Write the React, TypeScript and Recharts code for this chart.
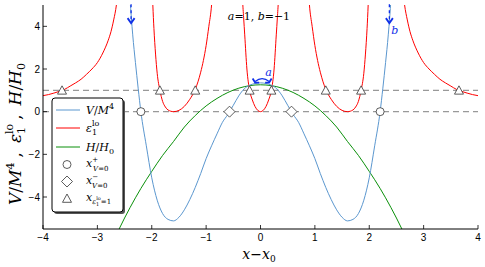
import React from 'react';
import {
  ComposedChart,
  Line,
  Scatter,
  XAxis,
  YAxis,
  ReferenceLine,
  ReferenceDot,
} from 'recharts';

const xTicks = [-4, -3, -2, -1, 0, 1, 2, 3, 4];
const yTicks = [-4, -2, 0, 2, 4];

// V/M^4
const potX = [
  -2.45, -2.4, -2.35, -2.3, -2.25, -2.2, -2.1, -2.0, -1.9, -1.8, -1.7, -1.6, -1.5, -1.4,
  -1.3, -1.2, -1.1, -1.0, -0.9, -0.8, -0.7, -0.6, -0.5, -0.4, -0.3, -0.2, -0.1, 0,
  0.1, 0.2, 0.3, 0.4, 0.5, 0.6, 0.7, 0.8, 0.9, 1.0, 1.1, 1.2, 1.3, 1.4, 1.5, 1.6,
  1.7, 1.8, 1.9, 2.0, 2.1, 2.2, 2.25, 2.3, 2.35, 2.4, 2.45,
];
const potY = [
  7.5, 5.3, 3.6, 2.3, 1.1, 0.0, -1.6, -3.1, -4.15, -4.78, -5.05, -5.12, -4.95, -4.6,
  -4.12, -3.55, -2.9, -2.2, -1.6, -1.04, -0.5, -0.13, 0.3, 0.74, 1.07, 1.24, 1.32, 1.35,
  1.32, 1.24, 1.07, 0.74, 0.3, -0.13, -0.5, -1.04, -1.6, -2.2, -2.9, -3.55, -4.12, -4.6, -4.95, -5.12,
  -5.05, -4.78, -4.15, -3.1, -1.6, 0.0, 1.1, 2.3, 3.6, 5.3, 7.5,
];

// H/H0
const hubX = [
  -2.7, -2.6, -2.4, -2.2, -2.0, -1.8, -1.6, -1.4, -1.2, -1.0, -0.8, -0.6, -0.4, -0.2, 0,
  0.2, 0.4, 0.6, 0.8, 1.0, 1.2, 1.4, 1.6, 1.8, 2.0, 2.2, 2.4, 2.6, 2.7,
];
const hubY = [
  -6.05, -5.5, -4.5, -3.6, -2.8, -2.05, -1.4, -0.72, -0.18, 0.27, 0.62, 0.9, 1.1, 1.22, 1.26,
  1.22, 1.1, 0.9, 0.62, 0.27, -0.18, -0.72, -1.4, -2.05, -2.8, -3.6, -4.5, -5.5, -6.05,
];

// epsilon_1^lo, one array pair per branch
const epsOuterLX = [-4.0, -3.9, -3.8, -3.7, -3.6, -3.5, -3.4, -3.3, -3.2, -3.1, -3.0, -2.9, -2.8, -2.75, -2.7, -2.65, -2.6];
const epsOuterLY = [0.75, 0.8, 0.87, 0.95, 1.05, 1.2, 1.35, 1.52, 1.75, 2.0, 2.3, 2.75, 3.35, 3.75, 4.3, 5.0, 6.2];
const epsInnerLX = [-2.0, -1.98, -1.96, -1.93, -1.9, -1.85, -1.8, -1.75, -1.7, -1.6, -1.5, -1.4, -1.3, -1.2, -1.15, -1.1, -1.05, -1.0, -0.95, -0.9, -0.86];
const epsInnerLY = [6.5, 5.0, 3.9, 2.7, 1.8, 1.0, 0.48, 0.22, 0.08, 0, 0.06, 0.25, 0.58, 1.05, 1.4, 1.85, 2.4, 3.1, 4.0, 5.0, 6.6];
const epsCenterX = [-0.35, -0.33, -0.31, -0.29, -0.25, -0.2, -0.15, -0.1, -0.05, 0, 0.05, 0.1, 0.15, 0.2, 0.25, 0.29, 0.31, 0.33, 0.35];
const epsCenterY = [7, 5.3, 4.4, 3.6, 2.0, 1.0, 0.55, 0.24, 0.06, 0, 0.06, 0.24, 0.55, 1.0, 2.0, 3.6, 4.4, 5.3, 7];
const epsInnerRX = [0.86, 0.9, 0.95, 1.0, 1.05, 1.1, 1.15, 1.2, 1.3, 1.4, 1.5, 1.6, 1.7, 1.75, 1.8, 1.85, 1.9, 1.93, 1.96, 1.98, 2.0];
const epsInnerRY = [6.6, 5.0, 4.0, 3.1, 2.4, 1.85, 1.4, 1.05, 0.58, 0.25, 0.06, 0, 0.08, 0.22, 0.48, 1.0, 1.8, 2.7, 3.9, 5.0, 6.5];
const epsOuterRX = [2.6, 2.65, 2.7, 2.75, 2.8, 2.9, 3.0, 3.1, 3.2, 3.3, 3.4, 3.5, 3.6, 3.7, 3.8, 3.9, 4.0];
const epsOuterRY = [6.2, 5.0, 4.3, 3.75, 3.35, 2.75, 2.3, 2.0, 1.75, 1.52, 1.35, 1.2, 1.05, 0.95, 0.87, 0.8, 0.75];

// marked points
const circleX = [-2.2, 2.2];
const circleY = [0, 0];
const diamondX = [-0.57, 0.57];
const diamondY = [0, 0];
const triX = [-3.65, -1.85, -1.2, -0.2, 0.2, 1.2, 1.85, 3.65];
const triY = [1, 1, 1, 1, 1, 1, 1, 1];

const zip = (xs: number[], ys: number[]) => xs.map((x, i) => ({ x, y: ys[i] }));

const BLUE = '#5b97cf';
const RED = '#ff0000';
const GREEN = '#0a900a';
const MARK = '#333333';
const ANN = '#1030e8';
const sans = '"Liberation Sans", Arial, sans-serif';
const serif = '"DejaVu Serif", serif';

const fmt = (v: number) => (v < 0 ? '\u2212' + Math.abs(v) : String(v));

const BottomTick = ({ x, y, payload }: any) => (
  <g>
    <line x1={x} y1={y} x2={x} y2={y - 4} stroke="#000" strokeWidth={0.8} />
    <text x={x} y={y + 11.5} textAnchor="middle" fontSize={10} fontFamily={sans} fill="#000">
      {fmt(payload.value)}
    </text>
  </g>
);
const TopTick = ({ x, y }: any) => (
  <line x1={x} y1={y} x2={x} y2={y + 4} stroke="#000" strokeWidth={0.8} />
);
const LeftTick = ({ x, y, payload }: any) => (
  <g>
    <line x1={x} y1={y} x2={x + 4} y2={y} stroke="#000" strokeWidth={0.8} />
    <text x={x - 3} y={y + 3.5} textAnchor="end" fontSize={10} fontFamily={sans} fill="#000">
      {fmt(payload.value)}
    </text>
  </g>
);
const RightTick = ({ x, y }: any) => (
  <line x1={x} y1={y} x2={x - 4} y2={y} stroke="#000" strokeWidth={0.8} />
);

const CircleMark = ({ cx, cy }: any) => (
  <circle cx={cx} cy={cy} r={4} fill="#fff" stroke={MARK} strokeWidth={0.8} />
);
const DiamondMark = ({ cx, cy }: any) => (
  <polygon
    points={`${cx},${cy - 5.5} ${cx + 5.5},${cy} ${cx},${cy + 5.5} ${cx - 5.5},${cy}`}
    fill="#fff"
    stroke={MARK}
    strokeWidth={0.8}
  />
);
const TriMark = ({ cx, cy }: any) => (
  <polygon
    points={`${cx},${cy - 4.5} ${cx + 4.5},${cy + 3.8} ${cx - 4.5},${cy + 3.8}`}
    fill="#fff"
    stroke={MARK}
    strokeWidth={0.8}
  />
);

// dashed downward arrow pointing at the pole of V
const PoleArrow = ({ cx, cy, label }: any) => (
  <g>
    <line x1={cx} y1={cy - 19} x2={cx} y2={cy - 4} stroke={ANN} strokeWidth={1.3} strokeDasharray="3 3" />
    <polyline points={`${cx - 3.5},${cy - 5} ${cx},${cy} ${cx + 3.5},${cy - 5}`} fill="none" stroke={ANN} strokeWidth={1.8} />
    {label && (
      <text x={cx + 2} y={cy + 11} fontSize={11} fontStyle="italic" fontFamily={serif} fill={ANN}>
        {label}
      </text>
    )}
  </g>
);

// curved double arrow over the top of the potential
const TopArrow = ({ cx, cy }: any) => (
  <g>
    <path d={`M ${cx - 7} ${cy + 3} Q ${cx} ${cy - 3} ${cx + 7} ${cy + 3}`} fill="none" stroke={ANN} strokeWidth={1.3} />
    <polyline points={`${cx - 9.5},${cy} ${cx - 7},${cy + 4} ${cx - 3},${cy + 4}`} fill="none" stroke={ANN} strokeWidth={1.8} />
    <polyline points={`${cx + 9.5},${cy} ${cx + 7},${cy + 4} ${cx + 3},${cy + 4}`} fill="none" stroke={ANN} strokeWidth={1.8} />
    <text x={cx + 3} y={cy - 3} fontSize={11} fontStyle="italic" fontFamily={serif} fill={ANN}>
      a
    </text>
  </g>
);

const legendRows = [110, 128, 147, 164.5, 181.5, 198.5];

const Legend = () => (
  <g fontFamily={serif} fontSize={11}>
    <rect x={54} y={100} width={71} height={114} rx={3} fill="#555" />
    <rect x={52} y={98} width={71} height={114} rx={3} fill="#fff" stroke="#000" strokeWidth={1} />
    <line x1={56} x2={80} y1={legendRows[0]} y2={legendRows[0]} stroke={BLUE} strokeWidth={1} />
    <line x1={56} x2={80} y1={legendRows[1]} y2={legendRows[1]} stroke={RED} strokeWidth={1} />
    <line x1={56} x2={80} y1={legendRows[2]} y2={legendRows[2]} stroke={GREEN} strokeWidth={1} />
    <CircleMark cx={67} cy={legendRows[3]} />
    <DiamondMark cx={67} cy={legendRows[4]} />
    <TriMark cx={67} cy={legendRows[5]} />
    <text x={86} y={legendRows[0] + 4}>
      <tspan fontStyle="italic">V</tspan>/<tspan fontStyle="italic">M</tspan>
      <tspan fontSize={8} dy={-5}>4</tspan>
    </text>
    <text x={86} y={legendRows[1] + 4}>
      <tspan fontStyle="italic">ε</tspan>
      <tspan fontSize={8} dy={3}>1</tspan>
      <tspan fontSize={8} dx={-5} dy={-9}>lo</tspan>
    </text>
    <text x={86} y={legendRows[2] + 4}>
      <tspan fontStyle="italic">H</tspan>/<tspan fontStyle="italic">H</tspan>
      <tspan fontSize={8} dy={3}>0</tspan>
    </text>
    <text x={86} y={legendRows[3] + 2}>
      <tspan fontStyle="italic">x</tspan>
      <tspan fontSize={7} dy={-5}>+</tspan>
      <tspan fontSize={7} dx={-5} dy={9} fontStyle="italic">V</tspan>
      <tspan fontSize={7}>=0</tspan>
    </text>
    <text x={86} y={legendRows[4] + 2}>
      <tspan fontStyle="italic">x</tspan>
      <tspan fontSize={7} dy={-5}>−</tspan>
      <tspan fontSize={7} dx={-6} dy={9} fontStyle="italic">V</tspan>
      <tspan fontSize={7}>=0</tspan>
    </text>
    <text x={86} y={legendRows[5] + 2}>
      <tspan fontStyle="italic">x</tspan>
      <tspan fontSize={7} dy={3} fontStyle="italic">ε</tspan>
      <tspan fontSize={5} dy={2}>1</tspan>
      <tspan fontSize={5} dx={-3} dy={-6}>lo</tspan>
      <tspan fontSize={7} dy={4}>=1</tspan>
    </text>
  </g>
);

const AxisLabels = () => (
  <g fontFamily={serif} fill="#000">
    <text x={259} y={20} textAnchor="middle" fontSize={11}>
      <tspan fontStyle="italic">a</tspan>=1, <tspan fontStyle="italic">b</tspan>=−1
    </text>
    <text x={259} y={259} textAnchor="middle" fontSize={14}>
      <tspan fontStyle="italic">x</tspan>−<tspan fontStyle="italic">x</tspan>
      <tspan fontSize={9} dy={3}>0</tspan>
    </text>
    <text x={0} y={0} transform="translate(21,134) rotate(-90)" textAnchor="middle" fontSize={17}>
      <tspan fontStyle="italic">V</tspan>/<tspan fontStyle="italic">M</tspan>
      <tspan fontSize={11} dy={-7}>4</tspan>
      <tspan dy={7} dx={5}>,</tspan>
      <tspan dx={9} fontStyle="italic">ε</tspan>
      <tspan fontSize={11} dy={4}>1</tspan>
      <tspan fontSize={11} dx={-7} dy={-12}>lo</tspan>
      <tspan dy={8} dx={4}>,</tspan>
      <tspan dx={9} fontStyle="italic">H</tspan>/<tspan fontStyle="italic">H</tspan>
      <tspan fontSize={11} dy={4}>0</tspan>
    </text>
  </g>
);

export default function App() {
  return (
    <div style={{ position: 'absolute', left: 0, top: 0, width: 485, height: 267, background: '#fff' }}>
      <ComposedChart width={485} height={267} margin={{ top: 5, right: 7, bottom: 0, left: 0 }}>
        <XAxis
          dataKey="x"
          type="number"
          domain={[-4, 4]}
          ticks={xTicks}
          interval={0}
          height={38}
          tickSize={0}
          tickMargin={0}
          tickLine={false}
          tick={BottomTick}
          axisLine={{ stroke: '#000', strokeWidth: 1 }}
          allowDataOverflow
        />
        <XAxis
          xAxisId="top"
          orientation="top"
          type="number"
          domain={[-4, 4]}
          ticks={xTicks}
          interval={0}
          height={0}
          tickSize={0}
          tickMargin={0}
          tickLine={false}
          tick={TopTick}
          axisLine={{ stroke: '#000', strokeWidth: 1 }}
          allowDataOverflow
        />
        <YAxis
          dataKey="y"
          type="number"
          domain={[-5.5, 5]}
          ticks={yTicks}
          interval={0}
          width={43}
          tickSize={0}
          tickMargin={0}
          tickLine={false}
          tick={LeftTick}
          axisLine={{ stroke: '#000', strokeWidth: 1 }}
          allowDataOverflow
        />
        <YAxis
          yAxisId="right"
          orientation="right"
          type="number"
          domain={[-5.5, 5]}
          ticks={yTicks}
          interval={0}
          width={0}
          tickSize={0}
          tickMargin={0}
          tickLine={false}
          tick={RightTick}
          axisLine={{ stroke: '#000', strokeWidth: 1 }}
          allowDataOverflow
        />
        <ReferenceLine y={1} stroke="#999" strokeWidth={1.3} strokeDasharray="6 4" />
        <ReferenceLine y={0} stroke="#999" strokeWidth={1.3} strokeDasharray="6 4" />

        <Line data={zip(hubX, hubY)} dataKey="y" type="monotone" stroke={GREEN} strokeWidth={1} dot={false} isAnimationActive={false} />
        <Line data={zip(epsOuterLX, epsOuterLY)} dataKey="y" type="monotone" stroke={RED} strokeWidth={1} dot={false} isAnimationActive={false} />
        <Line data={zip(epsInnerLX, epsInnerLY)} dataKey="y" type="monotone" stroke={RED} strokeWidth={1} dot={false} isAnimationActive={false} />
        <Line data={zip(epsCenterX, epsCenterY)} dataKey="y" type="monotone" stroke={RED} strokeWidth={1} dot={false} isAnimationActive={false} />
        <Line data={zip(epsInnerRX, epsInnerRY)} dataKey="y" type="monotone" stroke={RED} strokeWidth={1} dot={false} isAnimationActive={false} />
        <Line data={zip(epsOuterRX, epsOuterRY)} dataKey="y" type="monotone" stroke={RED} strokeWidth={1} dot={false} isAnimationActive={false} />
        <Line data={zip(potX, potY)} dataKey="y" type="monotone" stroke={BLUE} strokeWidth={1} dot={false} isAnimationActive={false} />

        <Scatter data={zip(circleX, circleY)} dataKey="y" shape={CircleMark} isAnimationActive={false} />
        <Scatter data={zip(diamondX, diamondY)} dataKey="y" shape={DiamondMark} isAnimationActive={false} />
        <Scatter data={zip(triX, triY)} dataKey="y" shape={TriMark} isAnimationActive={false} />

        <ReferenceDot x={-2.38} y={4.15} shape={(p: any) => <PoleArrow {...p} />} />
        <ReferenceDot x={2.37} y={4.15} shape={(p: any) => <PoleArrow {...p} label="b" />} />
        <ReferenceDot x={0.03} y={1.55} shape={(p: any) => <TopArrow {...p} />} />
      </ComposedChart>
      <svg width={485} height={267} style={{ position: 'absolute', left: 0, top: 0, pointerEvents: 'none' }}>
        <AxisLabels />
        <Legend />
      </svg>
    </div>
  );
}
